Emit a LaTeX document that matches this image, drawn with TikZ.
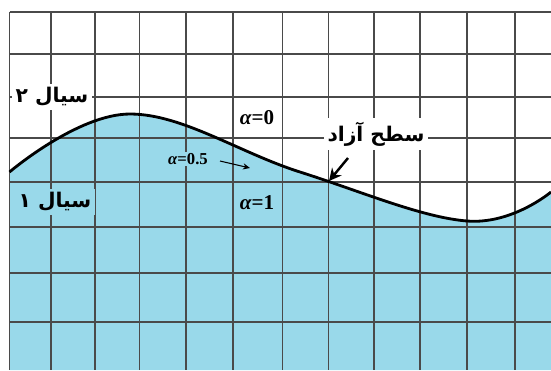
\documentclass[tikz,border=0pt]{standalone}
\usepackage{fontspec}
\newfontfamily\farsi[Script=Arabic]{DejaVu Sans}
\newfontfamily\timesfont{Liberation Serif}
\TeXXeTstate=1
\usepackage{tikz}
\usetikzlibrary{arrows.meta, positioning}
\definecolor{fluidblue}{HTML}{99D9EA}
\definecolor{gridgray}{HTML}{4A4A4A}

\tikzset{
  gridline/.style={gridgray, line width=0.6pt},
  surface/.style={black, line width=1.6pt},
  fluidlabel/.style={font=\farsi\bfseries\fontsize{11.5}{14}\selectfont, inner sep=2pt},
  alphalabel/.style={font=\timesfont\bfseries\fontsize{12}{14}\selectfont, inner sep=1pt}
}
\newcommand\alphaeq[1]{{\itshape α}=#1}

\begin{document}
\begin{tikzpicture}[x=0.02cm, y=-0.02cm]
    \useasboundingbox (0,0) rectangle (551,370);
    % fluid 1 below the surface
    \fill[fluidblue] (9.5,370) -- plot[smooth, tension=0.65] coordinates
      {(9.5,172) (130,114) (300,172) (467,221) (551,192)}
      -- (551,370) -- cycle;
    % mesh
    \foreach \x in {9.5,51,95,139.5,186,233,282.5,328.5,374,420,467,515} {
      \draw[gridline] (\x,12) -- (\x,370);
    }
    \foreach \y in {12,54,97,138,182,227,273,322} {
      \draw[gridline] (9.5,\y) -- (551,\y);
    }
    % free surface
    \draw[surface] plot[smooth, tension=0.65] coordinates
      {(9.5,172) (130,114) (300,172) (467,221) (551,192)};

    \node[fluidlabel, fill=white] (fluidtwo) at (52,97) {\beginR سیال ۲\endR};
    \node[fluidlabel, fill=fluidblue] (fluidone) at (55,202) {\beginR سیال ۱\endR};
    \node[fluidlabel, fill=white] (surflabel) at (376,134) {\beginR سطح آزاد\endR};

    \node[alphalabel] (alpha0) at (257,118) {\alphaeq{0}};
    \node[alphalabel] (alpha1) at (257,203) {\alphaeq{1}};
    \node[alphalabel, font=\timesfont\bfseries\fontsize{9.5}{11}\selectfont, fill=fluidblue] (alphahalf) at (188,159)
      {\alphaeq{0.5}};

    \coordinate (surftail) at (348,158);
    \coordinate (surftip) at (329,181);
    \draw[-{Stealth[length=7pt, width=7pt]}, line width=1.4pt] (surftail) -- (surftip);
    \coordinate (halftail) at (220,161);
    \coordinate (halftip) at (250,168);
    \draw[-{Stealth[length=4pt, width=3.5pt]}, line width=0.6pt] (halftail) -- (halftip);
\end{tikzpicture}
\end{document}
